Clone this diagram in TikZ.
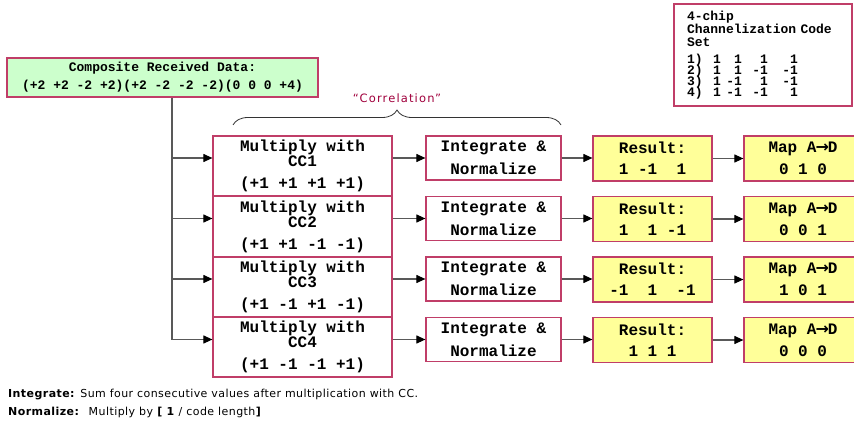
\documentclass[tikz,border=0pt]{standalone}
\usepackage{fontspec}
\setmainfont{DejaVu Sans}
\newfontfamily\chipfont{Liberation Mono}
\newfontfamily\notefont[LetterSpace=4]{DejaVu Sans}
\usepackage{tikz}
\usetikzlibrary{arrows.meta, decorations.pathreplacing}
\definecolor{boxedge}{RGB}{192,62,104}
\definecolor{datagreen}{RGB}{204,255,204}
\definecolor{resyellow}{RGB}{255,255,153}
\definecolor{corrred}{RGB}{160,0,60}
\newcommand\atod{A{\rmfamily\bfseries\kern-1pt→\kern-1pt}D}
\newcommand\tightlines{\setlength{\lineskiplimit}{-20pt}}
\newcommand\coderow[5]{\makebox[26pt][l]{#1}\makebox[8pt][r]{#2}\makebox[21pt][r]{#3}\makebox[26pt][r]{#4}\makebox[30pt][r]{#5}}

\begin{document}
\begin{tikzpicture}[x=1pt, y=-1pt,
	stagebox/.style={draw=boxedge, line width=1.2pt, fill=#1, inner sep=0pt, align=center,
	font=\chipfont\bfseries\fontsize{16}{14}\selectfont},
	stagebox/.default=white,
	mulbox/.style={stagebox, minimum width=179pt, minimum height=60pt},
	intbox/.style={stagebox, minimum width=135pt, minimum height=44pt},
	resbox/.style={stagebox=resyellow, minimum width=119pt, minimum height=45pt},
	mapbox/.style={stagebox=resyellow, minimum width=118pt, minimum height=45pt},
	smalltext/.style={font=\chipfont\bfseries\fontsize{13}{13}\selectfont\tightlines},
	line/.style={draw=black!65, line width=1.1pt},
	arr/.style={line, -{Triangle[length=9pt, width=8pt, black]}},
	note/.style={anchor=west, inner sep=0pt, font=\notefont\fontsize{11}{12}\selectfont}]
	\clip (0,0) rectangle (854,423);

	\node [stagebox=datagreen, smalltext, minimum width=311pt, minimum height=39pt] (comp) at (162.5,77.5)
		{Composite Received Data:\\[5pt](+2 +2 -2 +2)(+2 -2 -2 -2)(0 0 0 +4)};
	\node [stagebox, smalltext, align=left, inner xsep=13pt, text width=152pt, minimum height=102pt] (codes) at (763,55)
		{4-chip\\Channelization Code\\Set\\[4pt]
		\coderow{1)}{1}{1}{1}{1}\\[-2pt]\coderow{2)}{1}{1}{-1}{-1}\\[-2pt]
		\coderow{3)}{1}{-1}{1}{-1}\\[-2pt]\coderow{4)}{1}{-1}{-1}{1}};

	% correlation stage
	\node [mulbox] (mul1) at (302.5,166) {Multiply with\\CC1\\[8pt](+1 +1 +1 +1)};
	\node [mulbox] (mul2) at (302.5,226.5) {Multiply with\\CC2\\[8pt](+1 +1 -1 -1)};
	\node [mulbox] (mul3) at (302.5,287) {Multiply with\\CC3\\[8pt](+1 -1 +1 -1)};
	\node [mulbox] (mul4) at (302.5,347) {Multiply with\\CC4\\[8pt](+1 -1 -1 +1)};

	\node [intbox] (int1) at (493.5,158) {Integrate \&\\[7pt]Normalize};
	\node [intbox] (int2) at (493.5,218.5) {Integrate \&\\[7pt]Normalize};
	\node [intbox] (int3) at (493.5,279) {Integrate \&\\[7pt]Normalize};
	\node [intbox] (int4) at (493.5,339.5) {Integrate \&\\[7pt]Normalize};

	\node [resbox] (res1) at (652.5,158.5) {Result:\\[7pt]1 -1~~1};
	\node [resbox] (res2) at (652.5,219) {Result:\\[7pt]1~~1 -1};
	\node [resbox] (res3) at (652.5,279.5) {Result:\\[7pt]-1~~1~~-1};
	\node [resbox] (res4) at (652.5,340) {Result:\\[7pt]1 1 1};

	\node [mapbox] (map1) at (803,158.5) {Map \atod\\[7pt]0 1 0};
	\node [mapbox] (map2) at (803,219) {Map \atod\\[7pt]0 0 1};
	\node [mapbox] (map3) at (803,279.5) {Map \atod\\[7pt]1 0 1};
	\node [mapbox] (map4) at (803,340) {Map \atod\\[7pt]0 0 0};

	\coordinate (split) at (172,339.5);
	\coordinate (brL) at (233,125);
	\coordinate (brR) at (561,125);

	\draw [line] (comp.south -| split) -- (split);
	\draw [arr] (split |- int1.west) -- (mul1.west |- int1.west);
	\draw [arr] (split |- int2.west) -- (mul2.west |- int2.west);
	\draw [arr] (split |- int3.west) -- (mul3.west |- int3.west);
	\draw [arr] (split) -- (mul4.west |- int4.west);

	\draw [arr] (mul1.east |- int1.west) -- (int1.west);
	\draw [arr] (mul2.east |- int2.west) -- (int2.west);
	\draw [arr] (mul3.east |- int3.west) -- (int3.west);
	\draw [arr] (mul4.east |- int4.west) -- (int4.west);

	\draw [arr] (int1.east) -- (res1.west |- int1.east);
	\draw [arr] (int2.east) -- (res2.west |- int2.east);
	\draw [arr] (int3.east) -- (res3.west |- int3.east);
	\draw [arr] (int4.east) -- (res4.west |- int4.east);

	\draw [arr] (res1.east) -- (map1.west);
	\draw [arr] (res2.east) -- (map2.west);
	\draw [arr] (res3.east) -- (map3.west);
	\draw [arr] (res4.east) -- (map4.west);

	\draw [draw=black!80, line width=0.8pt, decorate, decoration={brace, amplitude=15pt}] (brL) -- (brR);
	\node [font=\notefont\fontsize{11.5}{12}\selectfont\addfontfeature{LetterSpace=10}, text=corrred] (corr) at (397,98) {“Correlation”};

	\node [note] (note1) at (8,395) {\textbf{Integrate:} Sum four consecutive values after multiplication with CC.};
	\node [note] (note2) at (8,412) {\textbf{Normalize:}~ Multiply by \textbf{[ 1} / code length\textbf{]}};
\end{tikzpicture}
\end{document}
